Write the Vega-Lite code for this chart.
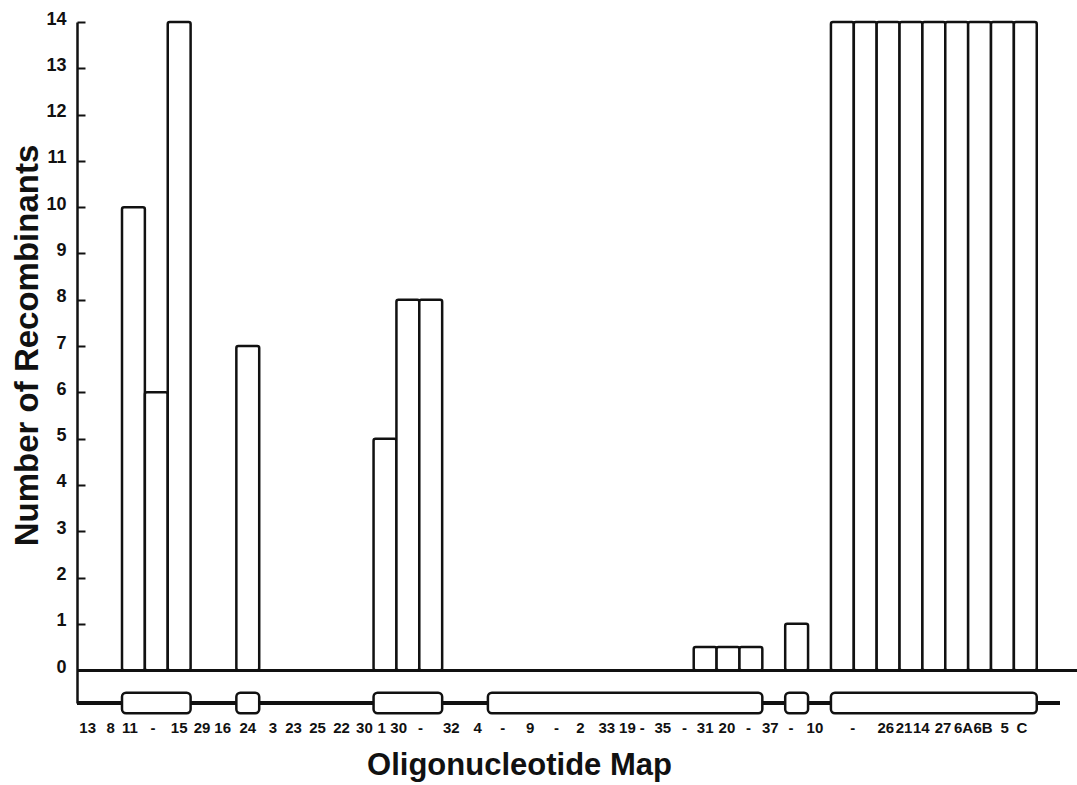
{
  "$schema": "https://vega.github.io/schema/vega-lite/v6.json",
  "autosize": {"type": "none"},
  "padding": {"left": 77, "top": 22, "right": 0, "bottom": 82},
  "width": 1000,
  "height": 681,
  "background": "white",
  "config": {"view": {"stroke": null}, "font": "Liberation Sans"},
  "datasets": {
    "bars": [
      {"start": 0, "end": 1, "recombinants": 10},
      {"start": 1, "end": 2, "recombinants": 6},
      {"start": 2, "end": 3, "recombinants": 14},
      {"start": 5, "end": 6, "recombinants": 7},
      {"start": 11, "end": 12, "recombinants": 5},
      {"start": 12, "end": 13, "recombinants": 8},
      {"start": 13, "end": 14, "recombinants": 8},
      {"start": 25, "end": 26, "recombinants": 0.5},
      {"start": 26, "end": 27, "recombinants": 0.5},
      {"start": 27, "end": 28, "recombinants": 0.5},
      {"start": 29, "end": 30, "recombinants": 1},
      {"start": 31, "end": 32, "recombinants": 14},
      {"start": 32, "end": 33, "recombinants": 14},
      {"start": 33, "end": 34, "recombinants": 14},
      {"start": 34, "end": 35, "recombinants": 14},
      {"start": 35, "end": 36, "recombinants": 14},
      {"start": 36, "end": 37, "recombinants": 14},
      {"start": 37, "end": 38, "recombinants": 14},
      {"start": 38, "end": 39, "recombinants": 14},
      {"start": 39, "end": 40, "recombinants": 14}
    ],
    "boxes": [
      {"start": 0, "end": 3},
      {"start": 5, "end": 6},
      {"start": 11, "end": 14},
      {"start": 16, "end": 28},
      {"start": 29, "end": 30},
      {"start": 31, "end": 40}
    ],
    "labels": [
      {"label": "13", "pos": -1.5},
      {"label": "8", "pos": -0.5},
      {"label": "11", "pos": 0.35},
      {"label": "-", "pos": 1.35},
      {"label": "15", "pos": 2.5},
      {"label": "29", "pos": 3.5},
      {"label": "16", "pos": 4.4},
      {"label": "24", "pos": 5.5},
      {"label": "3", "pos": 6.6},
      {"label": "23", "pos": 7.5},
      {"label": "25", "pos": 8.55},
      {"label": "22", "pos": 9.6},
      {"label": "30", "pos": 10.6},
      {"label": "1", "pos": 11.35},
      {"label": "30", "pos": 12.1},
      {"label": "-", "pos": 13.05},
      {"label": "32", "pos": 14.4},
      {"label": "4", "pos": 15.55},
      {"label": "-", "pos": 16.65},
      {"label": "9", "pos": 17.85},
      {"label": "-", "pos": 19.0},
      {"label": "2", "pos": 20.05},
      {"label": "33", "pos": 21.2},
      {"label": "19", "pos": 22.1},
      {"label": "-", "pos": 22.75},
      {"label": "35", "pos": 23.65},
      {"label": "-", "pos": 24.6},
      {"label": "31", "pos": 25.5},
      {"label": "20", "pos": 26.45},
      {"label": "-", "pos": 27.4},
      {"label": "37", "pos": 28.35},
      {"label": "-", "pos": 29.25},
      {"label": "10", "pos": 30.3},
      {"label": "-", "pos": 31.95},
      {"label": "26", "pos": 33.4},
      {"label": "21", "pos": 34.2},
      {"label": "14", "pos": 34.95},
      {"label": "27", "pos": 35.9},
      {"label": "6A", "pos": 36.8},
      {"label": "6B", "pos": 37.65},
      {"label": "5", "pos": 38.6},
      {"label": "C", "pos": 39.35}
    ]
  },
  "layer": [
    {
      "data": {"name": "bars"},
      "mark": {"type": "rule", "color": "#111", "strokeWidth": 2.5},
      "encoding": {"y": {"datum": 0, "type": "quantitative"}}
    },
    {
      "data": {"name": "bars"},
      "mark": {"type": "rule", "color": "#111", "strokeWidth": 2.5},
      "encoding": {
        "x": {"datum": -1.968, "type": "quantitative"},
        "x2": {"datum": 41.0},
        "y": {"datum": -0.71, "type": "quantitative"}
      }
    },
    {
      "data": {"name": "boxes"},
      "mark": {"type": "rect", "fill": "white", "stroke": "#111", "strokeWidth": 2.5, "cornerRadius": 4},
      "encoding": {
        "x": {"field": "start", "type": "quantitative"},
        "x2": {"field": "end"},
        "y": {"datum": -0.49, "type": "quantitative"},
        "y2": {"datum": -0.93}
      }
    },
    {
      "data": {"name": "bars"},
      "mark": {"type": "rect", "fill": "white", "stroke": "#111", "strokeWidth": 2.5, "cornerRadius": 2},
      "encoding": {
        "x": {
          "field": "start",
          "type": "quantitative",
          "scale": {"domain": [-1.968, 41.76], "nice": false, "zero": false},
          "axis": {
            "orient": "bottom",
            "domain": false,
            "ticks": false,
            "labels": false,
            "grid": false,
            "title": "Oligonucleotide Map",
            "titleFont": "Liberation Sans",
            "titleFontSize": 31,
            "titleFontWeight": "bold",
            "titleColor": "#111",
            "titleX": 442,
            "titleY": 62,
            "titleAlign": "center",
            "titleBaseline": "middle"
          }
        },
        "x2": {"field": "end"},
        "y": {
          "field": "recombinants",
          "type": "quantitative",
          "scale": {"domain": [-0.71, 14], "nice": false, "zero": false},
          "axis": {
            "values": [0, 1, 2, 3, 4, 5, 6, 7, 8, 9, 10, 11, 12, 13, 14],
            "format": "d",
            "grid": false,
            "domain": true,
            "domainColor": "#111",
            "domainWidth": 2.5,
            "ticks": true,
            "tickSize": -8,
            "tickColor": "#111",
            "tickWidth": 2,
            "labelFont": "Liberation Sans",
            "labelFontWeight": "bold",
            "labelFontSize": 18,
            "labelColor": "#111",
            "labelPadding": 19,
            "labelOffset": -3,
            "title": "Number of Recombinants",
            "titleFont": "Liberation Sans",
            "titleFontSize": 33,
            "titleFontWeight": "bold",
            "titleColor": "#111",
            "titleX": -50,
            "titleY": 323,
            "titleAngle": -90,
            "titleAlign": "center",
            "titleBaseline": "middle"
          }
        },
        "y2": {"datum": 0}
      }
    },
    {
      "data": {"name": "labels"},
      "mark": {"type": "text", "font": "Liberation Sans", "fontWeight": "bold", "fontSize": 15, "color": "#111", "align": "center", "baseline": "middle"},
      "encoding": {
        "x": {"field": "pos", "type": "quantitative"},
        "y": {"datum": -1.25, "type": "quantitative"},
        "text": {"field": "label"}
      }
    }
  ]
}
